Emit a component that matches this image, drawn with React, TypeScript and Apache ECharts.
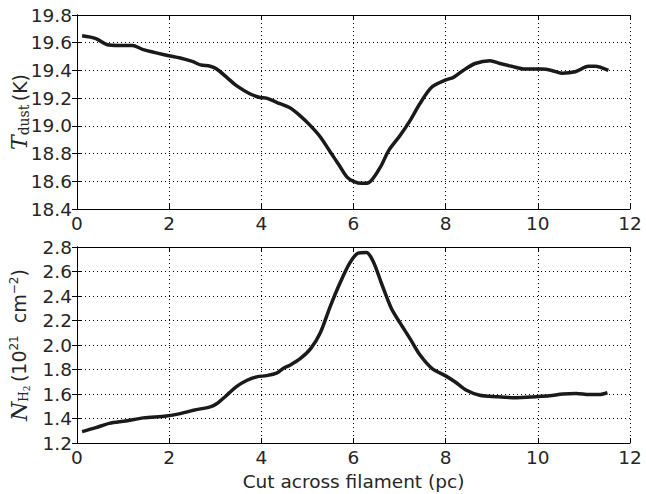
import React, { useEffect, useRef } from "react";
import * as echarts from "echarts";

const xTicks = [0, 2, 4, 6, 8, 10, 12];

const tX = [0.11, 0.41, 0.66, 0.9, 1.2, 1.44, 1.94, 2.24, 2.5, 2.68, 2.89, 3.03, 3.25, 3.46, 3.76, 3.97, 4.11, 4.33, 4.62, 4.85, 5.07, 5.28, 5.5, 5.7, 5.86, 6.0, 6.18, 6.33, 6.58, 6.76, 7.01, 7.23, 7.44, 7.7, 7.99, 8.17, 8.38, 8.64, 8.96, 9.18, 9.43, 9.72, 10.08, 10.3, 10.52, 10.81, 11.1, 11.24, 11.53];
const tDust = [19.65, 19.63, 19.585, 19.58, 19.58, 19.55, 19.51, 19.49, 19.465, 19.44, 19.43, 19.41, 19.35, 19.29, 19.23, 19.205, 19.2, 19.17, 19.13, 19.07, 19.0, 18.92, 18.81, 18.71, 18.63, 18.6, 18.585, 18.59, 18.7, 18.82, 18.93, 19.04, 19.16, 19.28, 19.33, 19.35, 19.4, 19.45, 19.47, 19.45, 19.43, 19.41, 19.41, 19.4, 19.38, 19.39, 19.43, 19.43, 19.4];

const nX = [0.11, 0.41, 0.7, 1.06, 1.44, 1.94, 2.24, 2.53, 2.89, 3.03, 3.25, 3.46, 3.68, 3.9, 4.11, 4.33, 4.48, 4.62, 4.85, 5.07, 5.28, 5.49, 5.7, 5.92, 6.1, 6.28, 6.43, 6.61, 6.82, 7.01, 7.23, 7.44, 7.7, 7.99, 8.2, 8.45, 8.74, 9.1, 9.53, 9.96, 10.25, 10.54, 10.83, 11.12, 11.33, 11.51];
const nH2 = [1.293, 1.325, 1.36, 1.38, 1.405, 1.42, 1.44, 1.468, 1.495, 1.52, 1.59, 1.66, 1.71, 1.74, 1.75, 1.77, 1.81, 1.835, 1.89, 1.97, 2.1, 2.31, 2.5, 2.67, 2.75, 2.756, 2.68, 2.5, 2.3, 2.18, 2.05, 1.92, 1.81, 1.75, 1.7, 1.63, 1.59, 1.578, 1.57, 1.578, 1.585, 1.6, 1.605, 1.595, 1.595, 1.61];

const FONT = "DejaVu Sans";
const TXT = "#262626";

function App() {
  const ref = useRef<HTMLDivElement>(null);
  useEffect(() => {
    if (!ref.current) return;
    const chart = echarts.init(ref.current, null, { renderer: "svg" });
    const grids = [
      { left: 77, top: 15, width: 553, height: 194, containLabel: false, outerBoundsMode: "none" },
      { left: 77, top: 247, width: 553, height: 196, containLabel: false, outerBoundsMode: "none" },
    ];
    const frameLine = { show: true, lineStyle: { color: "#000", width: 1 } };
    const tick = { show: true, inside: true, length: 5, lineStyle: { color: "#000" } };
    const grid = { show: true, lineStyle: { color: "#000", width: 1, type: [1, 3] as any } };
    const xBase = (gridIndex: number, position: string, labels: boolean) => ({
      type: "value",
      gridIndex,
      position,
      min: xTicks[0],
      max: xTicks[xTicks.length - 1],
      interval: 2,
      axisLine: frameLine,
      axisTick: tick,
      splitLine: labels ? grid : { show: false },
      axisLabel: labels
        ? { show: true, fontFamily: FONT, fontSize: 18.5, color: TXT, margin: 5 }
        : { show: false },
    });
    const yBase = (gridIndex: number, position: string, min: number, max: number, labels: boolean, name?: any) => ({
      type: "value",
      gridIndex,
      position,
      min,
      max,
      interval: 0.2,
      axisLine: frameLine,
      axisTick: tick,
      splitLine: labels ? grid : { show: false },
      axisLabel: labels
        ? {
            show: true,
            fontFamily: FONT,
            fontSize: 18.5,
            color: TXT,
            margin: 5,
            formatter: (v: number) => v.toFixed(1),
          }
        : { show: false },
      ...(name || {}),
    });
    const tName = {
      name: "{it|T}{sub|dust} {n|(K)}",
      nameLocation: "middle",
      nameGap: 46,
      nameMoveOverlap: false,
      nameRotate: 90,
      nameTextStyle: {
        rich: {
          it: { fontFamily: "DejaVu Serif", fontStyle: "italic", fontSize: 22, color: TXT },
          sub: { fontFamily: "DejaVu Serif", fontSize: 14, color: TXT, padding: [9, 0, 0, 0] },
          n: { fontFamily: FONT, fontSize: 19, color: TXT },
        },
      },
    };
    const nName = {
      name: "{it|N}{sub|H}{sub2|2} {n|(10}{sup|21}{n|  cm}{sup|−2}{n|)}",
      nameLocation: "middle",
      nameGap: 46,
      nameMoveOverlap: false,
      nameRotate: 90,
      nameTextStyle: {
        rich: {
          it: { fontFamily: "DejaVu Serif", fontStyle: "italic", fontSize: 22, color: TXT },
          sub: { fontFamily: "DejaVu Serif", fontSize: 12, color: TXT, padding: [9, 0, 0, 0] },
          sub2: { fontFamily: "DejaVu Serif", fontSize: 9, color: TXT, padding: [15, 0, 0, 0] },
          n: { fontFamily: FONT, fontSize: 19, color: TXT },
          sup: { fontFamily: FONT, fontSize: 12, color: TXT, padding: [0, 0, 11, 0] },
        },
      },
    };
    const xAxisName = {
      name: "Cut across filament (pc)",
      nameLocation: "middle",
      nameGap: 29,
      nameMoveOverlap: false,
      nameTextStyle: { fontFamily: FONT, fontSize: 18.5, color: TXT },
    };
    chart.setOption({
      animation: false,
      backgroundColor: "#fff",
      grid: grids,
      xAxis: [
        xBase(0, "bottom", true),
        xBase(0, "top", false),
        { ...xBase(1, "bottom", true), ...xAxisName },
        xBase(1, "top", false),
      ],
      yAxis: [
        yBase(0, "left", 18.4, 19.8, true, tName),
        yBase(0, "right", 18.4, 19.8, false),
        yBase(1, "left", 1.2, 2.8, true, nName),
        yBase(1, "right", 1.2, 2.8, false),
      ],
      series: [
        {
          type: "line",
          xAxisIndex: 0,
          yAxisIndex: 0,
          data: tX.map((x, i) => [x, tDust[i]]),
          showSymbol: false,
          smooth: 0.3,
          lineStyle: { color: "#1a1a1a", width: 3.5 },
        },
        {
          type: "line",
          xAxisIndex: 2,
          yAxisIndex: 2,
          data: nX.map((x, i) => [x, nH2[i]]),
          showSymbol: false,
          smooth: 0.3,
          lineStyle: { color: "#1a1a1a", width: 3.5 },
        },
      ],
    });
    return () => chart.dispose();
  }, []);
  return (
    <div
      ref={ref}
      style={{ position: "fixed", left: 0, top: 0, width: 646, height: 494, background: "#fff" }}
    />
  );
}

export default App;
